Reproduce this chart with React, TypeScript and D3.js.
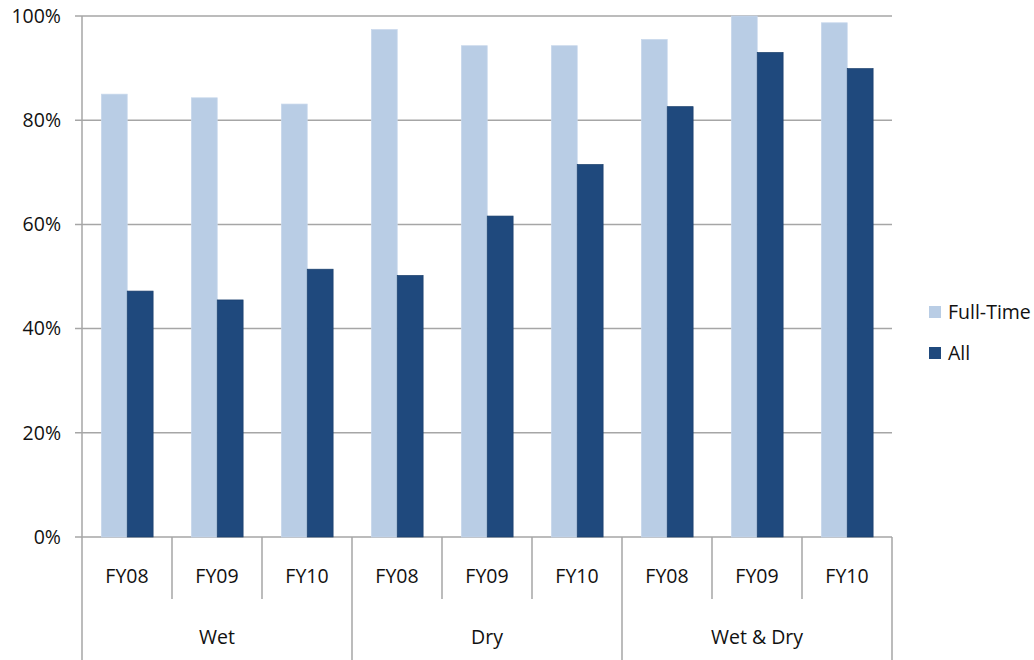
import React from "react";
import * as d3 from "d3";

const groups = ["Wet", "Dry", "Wet & Dry"];
const years = ["FY08", "FY09", "FY10"];
const seriesNames = ["Full-Time", "All"];
const fullTime = [0.85, 0.843, 0.831, 0.974, 0.943, 0.943, 0.955, 1.0, 0.987];
const allValues = [0.472, 0.455, 0.514, 0.502, 0.616, 0.715, 0.826, 0.93, 0.899];
const yTicks = [0, 0.2, 0.4, 0.6, 0.8, 1.0];
const colors = ["#B9CDE5", "#1F497D"];

const W = 1034, H = 660;
const left = 82, right = 892, top = 16, bottom = 537;
const font = "'Open Sans', 'Liberation Sans', sans-serif";
const fs = 19.5;

export default function App() {
  const cats = groups.flatMap((g) => years.map((y) => `${g}|${y}`));
  const x = d3.scaleBand().domain(cats).range([left, right]).paddingInner(0).paddingOuter(0);
  const bw = x.bandwidth();
  const inner = d3.scaleBand().domain(seriesNames).range([bw * 0.215, bw * 0.79]);
  const y = d3.scaleLinear().domain([0, 1]).range([bottom, top]);
  const series = [fullTime, allValues];
  const gridColor = "#A6A6A6";

  return (
    <svg width={W} height={H} style={{ position: "absolute", left: 0, top: 0, background: "#fff" }}>
      {yTicks.map((t) => (
        <g key={t}>
          <line x1={75} x2={right} y1={y(t)} y2={y(t)} stroke={gridColor} strokeWidth={1.5} />
          <text x={61} y={y(t)} dy="0.35em" textAnchor="end" fontFamily={font} fontSize={fs} fill="#111">
            {d3.format(".0%")(t)}
          </text>
        </g>
      ))}
      {cats.map((c, i) =>
        series.map((s, si) => (
          <rect
            key={c + si}
            x={(x(c) as number) + (inner(seriesNames[si]) as number)}
            width={inner.bandwidth()}
            y={y(s[i])}
            height={bottom - y(s[i])}
            fill={colors[si]}
            stroke={si === 1 ? "#1A3F6C" : "#C8D8EC"}
            strokeWidth={0.7}
          />
        ))
      )}
      <line x1={left} x2={left} y1={top} y2={H} stroke={gridColor} strokeWidth={1.5} />
      {cats.map((c, i) => {
        if (i === 0) return null;
        const isGroup = i % 3 === 0;
        return (
          <line key={"sep" + i} x1={x(c)} x2={x(c)} y1={bottom} y2={isGroup ? H : 599} stroke={gridColor} strokeWidth={1.5} />
        );
      })}
      <line x1={right} x2={right} y1={bottom} y2={H} stroke={gridColor} strokeWidth={1.5} />
      {cats.map((c) => (
        <text key={"l" + c} x={(x(c) as number) + bw / 2} y={576} dy="0.35em" textAnchor="middle" fontFamily={font} fontSize={fs} fill="#111">
          {c.split("|")[1]}
        </text>
      ))}
      {groups.map((g) => (
        <text key={g} x={(x(`${g}|FY09`) as number) + bw / 2} y={637} dy="0.35em" textAnchor="middle" fontFamily={font} fontSize={fs} fill="#111">
          {g}
        </text>
      ))}
      {seriesNames.map((n, i) => (
        <g key={n} transform={`translate(929, ${306 + i * 41})`}>
          <rect width={12} height={12} fill={colors[i]} />
          <text x={19} y={6} dy="0.35em" fontFamily={font} fontSize={fs} fill="#111">{n}</text>
        </g>
      ))}
    </svg>
  );
}
